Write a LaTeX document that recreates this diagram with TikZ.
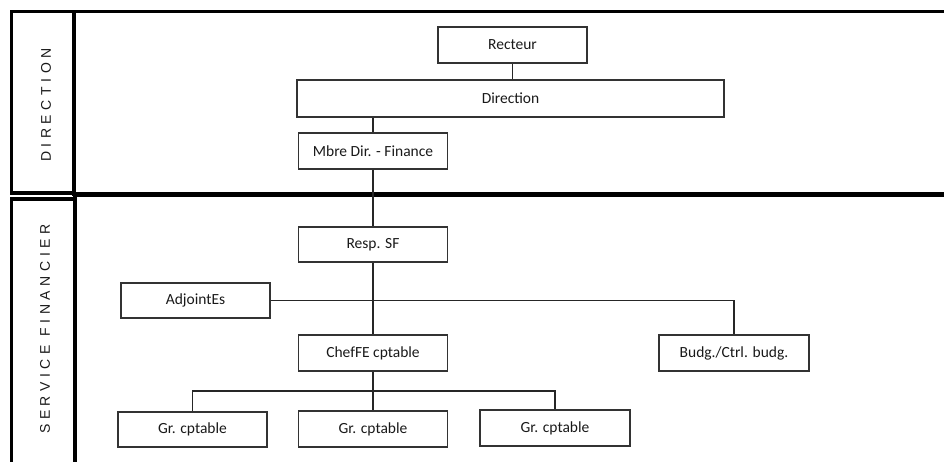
\documentclass[tikz,border=0pt]{standalone}
\usepackage{fontspec}
\setmainfont{Carlito}
\newfontfamily\bandfont[LetterSpace=33]{Liberation Sans}
\usepackage{tikz}

\begin{document}
\begin{tikzpicture}[x=1pt, y=-1pt,
    box/.style={draw=black!80, line width=1.3pt, minimum width=149pt, minimum height=36pt,
      inner sep=0pt, text=black!90, font=\fontsize{15.5}{17}\selectfont},
    link/.style={draw=black!85, line width=1.3pt},
    frame/.style={draw=black, line width=3.5pt},
    band/.style={rotate=90, text=black!90, font=\bandfont\fontsize{14}{16}\selectfont}]
  \useasboundingbox (0,0) rectangle (944,461);

  % table frames
  \draw[frame] (950,11.5) -- (11.5,11.5) -- (11.5,193) -- (74,193);
  \draw[frame] (74,11.5) -- (74,196);
  \draw[frame, line width=5pt] (74,194.5) -- (950,194.5);
  \draw[frame] (11.5,470) -- (11.5,199) -- (75,199) -- (75,470);
  \draw[frame] (75,194) -- (75,200);

  \node[band] (dirlabel) at (46,105) {DIRECTION};
  \node[band] (sflabel) at (45,329) {SERVICE FINANCIER};

  % boxes
  \node[box] (recteur) at (512.5,45) {Recteur};
  \node[box, minimum width=427pt, minimum height=37pt] (direction) at (510.5,98.5) {Direction};
  \node[box] (mbre) at (373,151) {Mbre Dir. - Finance};
  \node[box, minimum height=35pt] (respsf) at (373,244.5) {Resp. SF};
  \node[box, minimum height=35pt] (adjointes) at (195.5,300.5) {AdjointEs};
  \node[box] (chefe) at (373,353) {ChefFE cptable};
  \node[box, minimum width=150pt] (budg) at (734,353) {Budg./Ctrl. budg.};
  \node[box, minimum height=35pt] (gr1) at (192.5,429.5) {Gr. cptable};
  \node[box] (gr2) at (373,429) {Gr. cptable};
  \node[box, minimum width=150pt] (gr3) at (555,428) {Gr. cptable};

  % links
  \draw[link] (recteur.south) -- (recteur.south |- direction.north);
  \draw[link] (direction.south -| mbre.north) -- (mbre.north);
  \draw[link] (mbre.south) -- (respsf.north);
  \draw[link] (respsf.south) -- (chefe.north);
  \draw[link] (adjointes.east) -- (adjointes.east -| budg.north) -- (budg.north);
  \coordinate (grbus) at (373,391);
  \draw[link] (chefe.south) -- (gr2.north);
  \draw[link] (gr1.north) |- (grbus) -| (gr3.north);
\end{tikzpicture}
\end{document}
